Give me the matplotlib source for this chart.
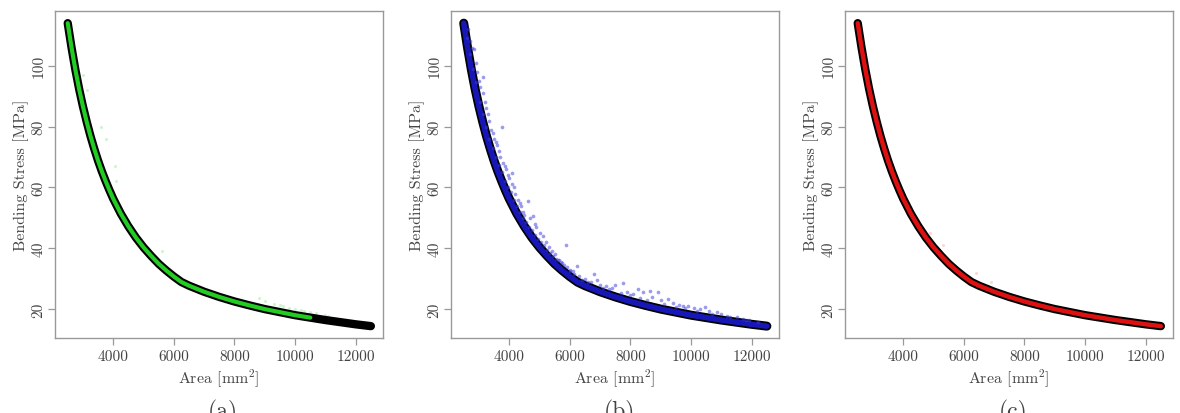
import matplotlib
matplotlib.use("Agg")
import matplotlib.pyplot as plt
import numpy as np

plt.rcParams['font.family'] = ['cmr10', 'DejaVu Serif']
plt.rcParams['mathtext.fontset'] = 'cm'
plt.rcParams['axes.formatter.use_mathtext'] = True

# Curve (Area [mm^2] -> Bending stress [MPa])
area = [2500, 2625, 2750, 2875, 3000, 3125, 3250, 3375, 3500, 3625, 3750,
        3875, 4000, 4250, 4500, 4750, 5000, 5250, 5500, 5750, 6000, 6125,
        6250, 6375, 6500, 6750, 7000, 7500, 8000, 8500, 9000, 9500, 10000,
        10500, 11000, 11500, 12000, 12500]
stress = [114.0, 106.0, 98.8, 92.4, 86.7, 81.6, 76.9, 72.7, 68.8, 65.3, 62.1,
          59.1, 56.3, 51.4, 47.2, 43.5, 40.3, 37.5, 34.9, 32.7, 30.7, 29.8,
          28.9, 28.3, 27.7, 26.7, 25.7, 24.0, 22.5, 21.2, 20.0, 19.0, 18.0,
          17.2, 16.4, 15.7, 15.0, 14.4]

# Faint scattered predictions above the curve
green_x = [3000, 3150, 3600, 3750, 4050, 4100, 5600, 8800, 9000, 9300, 9500,
           9600, 9800, 10000, 10200, 10300, 10500, 10700, 11000, 11100]
green_y = [97, 92, 80, 76, 67, 62, 39, 23.5, 22.5, 21.8, 21.5,
           21.0, 20.5, 20.0, 19.8, 19.5, 19.2, 18.8, 18.2, 17.8]

blue_x = [2650, 2700, 2780, 2835, 2900, 2950, 3000, 3050, 3122, 3150, 3200,
          3250, 3300, 3350, 3400, 3450, 3500, 3550, 3600, 3650, 3700, 3750,
          3800, 3850, 3900, 3950, 4000, 4080, 4100, 4150, 4200, 4300, 4350,
          4400, 4450, 4500, 4630, 4700, 4790, 4850, 4900, 5000, 5120, 5200,
          5300, 5400, 5500, 5560, 5650, 5750, 5870, 5900, 6000, 6100, 6220,
          6300, 6500, 6700, 6795, 6900, 7000, 7200, 7400, 7500, 7760, 7900,
          8100, 8260, 8400, 8640, 8700, 8920, 9000, 9250, 9400, 9600, 9740,
          9900, 10100, 10300, 10460, 10600, 10850, 11000, 11200, 11500, 11700,
          11900,
          2600, 2700, 2800, 2900, 3050, 3150, 3250, 3350, 3450, 3550, 3650,
          3750, 3850, 3950, 4050, 4150, 4250, 4350, 4450, 4550, 4650, 4750,
          4850, 4950, 5050, 5150, 5250, 5350, 5450, 5600, 5700, 5800, 6000,
          6150, 6400, 6600, 7100, 7300, 7700, 8000, 8300, 8550, 9100, 9500,
          9800, 10200, 10700, 11300, 11800, 12200]
blue_y = [112, 108, 106, 105.4, 101, 98, 95, 93, 96.2, 91, 88,
          86, 84, 82, 79, 78, 76, 75, 74, 72, 70, 80,
          68, 67, 66, 64, 63, 64.8, 61, 60, 58, 56, 55,
          54, 52, 51, 55.5, 50, 50.5, 48, 47, 45, 44, 42,
          40.5, 39, 38, 36.4, 36, 35, 41, 34, 33, 32.5, 34.2,
          31, 30, 29, 31.5, 29.5, 28, 27.5, 27, 28, 28.5, 25.5,
          25, 26.5, 25.5, 26, 24, 25.5, 23, 23.3, 22, 21.5, 21.1,
          21, 20.5, 20, 20.6, 19.5, 18.9, 18.5, 17.8, 17.3, 16.8,
          16.4,
          109, 104, 99, 94.5, 88, 84, 80, 76, 73, 70, 67.5,
          65, 62, 60, 58.5, 56, 54, 52, 50, 48.5, 47, 46,
          44.5, 43, 42, 41, 39.5, 38.5, 37.5, 36, 35.5, 34.5, 32.5,
          31.5, 29.5, 28.8, 27, 26.5, 25.2, 24.5, 23.5, 23, 21.8, 20.8,
          20.2, 19.3, 18.5, 17.4, 16.5, 15.8]

red_x = [4900, 5300, 6400, 6900]
red_y = [45, 41, 32, 29]

green_end = 10500

W, H = 1180, 414
fig = plt.figure(figsize=(W / 100, H / 100), dpi=100)

lefts = [55, 451, 845]
panel_w = 328
top_px, bot_px = 12, 339
labels = ['(a)', '(b)', '(c)']
GREY = '#999999'
TXT = '#444444'

def make_ax(left):
    ax = fig.add_axes([left / W, 1 - bot_px / H, panel_w / W, (bot_px - top_px) / H])
    ax.set_xlim(2080, 12900)
    ax.set_ylim(10.5, 118)
    ax.set_xticks([4000, 6000, 8000, 10000, 12000])
    ax.set_yticks([20, 40, 60, 80, 100])
    ax.set_xticklabels(['4000', '6000', '8000', '10000', '12000'])
    ax.set_yticklabels(['20', '40', '60', '80', '100'], rotation=90, va='center')
    for s in ax.spines.values():
        s.set_color(GREY)
        s.set_linewidth(1.0)
    ax.tick_params(direction='out', length=5, width=0.9, color=GREY,
                   labelcolor=TXT, labelsize=11)
    ax.tick_params(axis='x', pad=3)
    ax.tick_params(axis='y', pad=2)
    ax.set_xlabel(r'Area [mm$^2$]', fontsize=11.5, color=TXT, labelpad=3)
    ax.set_ylabel('Bending Stress [MPa]', fontsize=11.5, color=TXT, labelpad=2)
    return ax

axes = [make_ax(l) for l in lefts]

gx = [a for a in area if a <= green_end]
gy = [s for a, s in zip(area, stress) if a <= green_end]

# (a)
ax = axes[0]
ax.scatter(green_x, green_y, s=5, color='#7be07b', alpha=0.35, linewidths=0, zorder=2)
ax.plot(area, stress, color='black', lw=6.0, solid_capstyle='round',
        solid_joinstyle='round', zorder=3)
ax.plot(gx, gy, color='#22cc22', lw=3.0, solid_capstyle='round',
        solid_joinstyle='round', zorder=4)

# (b)
ax = axes[1]
ax.plot(area, stress, color='black', lw=6.5, solid_capstyle='round',
        solid_joinstyle='round', zorder=3)
ax.plot(area, stress, color='#1a1acc', lw=4.0, solid_capstyle='round',
        solid_joinstyle='round', zorder=4, alpha=0.9)
ax.scatter(blue_x, blue_y, s=7, color='#3a3ae0', alpha=0.5, linewidths=0, zorder=5)

# (c)
ax = axes[2]
ax.scatter(red_x, red_y, s=5, color='#f08080', alpha=0.3, linewidths=0, zorder=2)
ax.plot(area, stress, color='black', lw=6.0, solid_capstyle='round',
        solid_joinstyle='round', zorder=3)
ax.plot(area, stress, color='#dd1111', lw=3.2, solid_capstyle='round',
        solid_joinstyle='round', zorder=4)

for l, lab in zip(lefts, labels):
    fig.text((l + panel_w / 2 + 4) / W, (H - 400) / H, lab, ha='center', va='top',
             fontsize=17, color=TXT)

fig.savefig('out.png', dpi=100)
